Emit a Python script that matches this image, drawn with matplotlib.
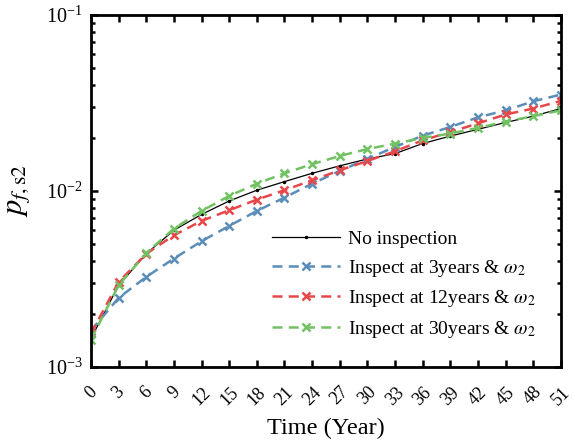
import numpy as np
import matplotlib.pyplot as plt
from matplotlib.ticker import LogLocator, NullFormatter
from matplotlib.transforms import ScaledTranslation

plt.rcParams['font.family'] = ['Liberation Serif', 'DejaVu Serif']
plt.rcParams['mathtext.fontset'] = 'stix'

years = np.arange(0, 52, 3)

no_insp = [1.45e-3, 2.91e-3, 4.40e-3, 5.98e-3, 7.36e-3, 8.77e-3, 1.01e-2, 1.13e-2, 1.26e-2,
           1.39e-2, 1.52e-2, 1.63e-2, 1.86e-2, 2.05e-2, 2.24e-2, 2.45e-2, 2.66e-2, 2.94e-2]
insp_3 = [1.61e-3, 2.47e-3, 3.25e-3, 4.13e-3, 5.18e-3, 6.33e-3, 7.70e-3, 9.17e-3, 1.10e-2,
          1.30e-2, 1.52e-2, 1.78e-2, 2.06e-2, 2.31e-2, 2.62e-2, 2.87e-2, 3.23e-2, 3.53e-2]
insp_12 = [1.55e-3, 3.04e-3, 4.40e-3, 5.60e-3, 6.76e-3, 7.77e-3, 8.93e-3, 1.01e-2, 1.15e-2,
           1.31e-2, 1.48e-2, 1.68e-2, 1.94e-2, 2.16e-2, 2.42e-2, 2.72e-2, 2.94e-2, 3.25e-2]
insp_30 = [1.43e-3, 2.91e-3, 4.44e-3, 6.11e-3, 7.70e-3, 9.37e-3, 1.10e-2, 1.26e-2, 1.42e-2,
           1.58e-2, 1.73e-2, 1.86e-2, 2.00e-2, 2.12e-2, 2.28e-2, 2.48e-2, 2.66e-2, 2.87e-2]

fig = plt.figure(figsize=(5.74, 4.43), dpi=100)
ax = fig.add_axes([0.1585, 0.1716, 0.8185, 0.7946])

dash_style = dict(lw=1.8, ls="--", dashes=(4, 2.5), marker="x", ms=6, mew=1.8)
ax.plot(years, no_insp, color="black", lw=0.9, marker=".", ms=3, label="No inspection")
ax.plot(years, insp_3, color="#5b8db8", label=r"Inspect at 3years & $\omega_2$", **dash_style)
ax.plot(years, insp_12, color="#e8474a", label=r"Inspect at 12years & $\omega_2$", **dash_style)
ax.plot(years, insp_30, color="#72c264", label=r"Inspect at 30years & $\omega_2$", **dash_style)

ax.set_yscale("log")
ax.set_xlim(0, 51)
ax.set_ylim(1e-3, 1e-1)
ax.set_xticks(years)
ax.set_xticklabels([str(y) for y in years], rotation=45, fontsize=13)
shift = ScaledTranslation(0.05, 0, fig.dpi_scale_trans)
for lab in ax.get_xticklabels():
    lab.set_transform(lab.get_transform() + shift)
ax.yaxis.set_minor_locator(LogLocator(base=10, subs=np.arange(2, 10)))
ax.yaxis.set_minor_formatter(NullFormatter())
ax.tick_params(axis="y", labelsize=14.5, pad=6)
ax.tick_params(axis="x", pad=12)
ax.tick_params(which="both", direction="in", top=True, right=True, width=1.8)
ax.tick_params(which="major", length=5)
ax.tick_params(which="minor", length=3)
for s in ax.spines.values():
    s.set_linewidth(2)

ax.set_xlabel("Time (Year)", fontsize=17.5, labelpad=7)
ax.set_ylabel(r"$p_{f,\mathrm{s2}}$", fontsize=22, labelpad=10)

ax.legend(loc="lower right", bbox_to_anchor=(0.983, 0.027), frameon=False, fontsize=14,
          handlelength=3.5, handletextpad=0.4, labelspacing=0.5)

fig.savefig("out.png", dpi=100)
